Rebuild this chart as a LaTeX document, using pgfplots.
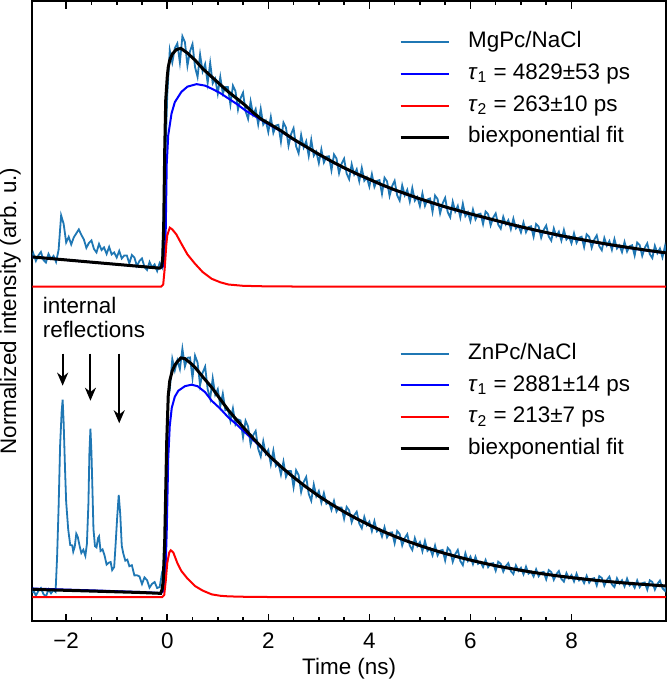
\documentclass[border=0pt]{standalone}
\usepackage{fontspec}
\setmainfont{Liberation Sans}
\usepackage{pgfplots}
\pgfplotsset{compat=1.18}
\usetikzlibrary{arrows.meta}

\definecolor{tabblue}{HTML}{1F77B4}

\pgfplotsset{
  panel/.style={
    width=316.5pt, height=309.75pt, scale only axis,
    xmin=-2.67, xmax=9.87, ymin=0, ymax=619,
    legend image code/.code={\draw[##1] (0pt,0pt) -- (24pt,0pt);},
    legend cell align=left,
    legend style={draw=none, fill=none, inner sep=0pt,
      font=\fontsize{11.2}{13}\selectfont,
      row sep=5pt,
      nodes={inner sep=0pt, text height=8.2pt, text depth=2.6pt},
      /tikz/every odd column/.append style={column sep=9pt}},
  },
  data/.style={tabblue, line width=0.9pt},
  comp1/.style={blue, line width=1pt},
  comp2/.style={red, line width=1pt},
  fit/.style={black, line width=1.5pt},
}

\begin{document}
\begin{tikzpicture}
% lower panel (ZnPc) carries the frame and labels
\begin{axis}[panel,
  axis line style={line width=1pt},
  xtick={-2,0,2,4,6,8},
  xticklabels={−2,0,2,4,6,8},
  minor x tick num=3,
  ytick=\empty,
  tick align=inside, xtick pos=both, xticklabel pos=bottom,
  major tick length=3.8pt, minor tick length=2pt,
  every tick/.style={black, line width=0.8pt},
  ticklabel style={font=\fontsize{11.2}{13}\selectfont},
  xticklabel style={yshift=-2.5pt},
  xlabel={Time (ns)},
  ylabel={Normalized intensity (arb.\ u.)},
  label style={font=\fontsize{11.2}{13}\selectfont},
  xlabel style={at={(axis description cs:0.5,-0.059)}, anchor=north, inner sep=0pt},
  ylabel style={at={(axis description cs:-0.0174,0.5)}, anchor=south, inner sep=0pt},
  legend style={at={(axis cs:4.58,278)}, anchor=north west},
]
\addplot[data] coordinates {
(-2.67,28) (-2.65,31.4) (-2.60,25.4) (-2.55,30.2) (-2.50,33) (-2.45,27) (-2.40,24.5) (-2.35,31.7) (-2.30,27.7)
(-2.25,31) (-2.21,29.2) (-2.18,63.6) (-2.15,113.4) (-2.12,175.4) (-2.09,208.8) (-2.07,221) (-2.05,197.8)
(-2.02,147.6) (-2.00,118.8) (-1.96,91.6) (-1.92,76) (-1.88,75.6) (-1.86,69.4) (-1.83,74.4) (-1.80,87.2)
(-1.77,84) (-1.73,74) (-1.70,68) (-1.66,71.2) (-1.62,65.2) (-1.59,77) (-1.56,117.2) (-1.54,168.6) (-1.52,192)
(-1.50,168.4) (-1.48,130.4) (-1.46,91.8) (-1.43,74.8) (-1.40,73.6) (-1.37,82.8) (-1.35,84.6) (-1.32,70)
(-1.28,71.6) (-1.24,65.4) (-1.20,56.4) (-1.16,58.2) (-1.12,59) (-1.09,51) (-1.05,54) (-1.02,78.2) (-0.99,104.2)
(-0.96,126) (-0.93,107) (-0.90,75.2) (-0.87,67.6) (-0.83,60.4) (-0.79,61.4) (-0.75,54.8) (-0.70,55.8)
(-0.65,45.6) (-0.60,45.8) (-0.55,44.6) (-0.50,37) (-0.45,43.6) (-0.40,40.9) (-0.35,33.4) (-0.30,37.2)
(-0.25,39) (-0.20,33) (-0.15,34) (-0.10,49.2) (-0.06,54.2) (-0.03,82) (-0.01,160) (0.02,225)
(0.05,230.9) (0.10,261.7) (0.15,250.3) (0.20,260.3) (0.25,251.6) (0.30,271.9) (0.35,254.2) (0.40,262.9)
(0.45,263.2) (0.50,242.8) (0.55,265) (0.60,258.1) (0.65,235.5) (0.70,247.9) (0.75,254) (0.80,231.5)
(0.85,222.1) (0.90,242.4) (0.95,226) (1.00,231.5) (1.05,214.5) (1.10,227) (1.15,210.5) (1.20,211.8)
(1.25,200) (1.30,212.3) (1.35,196.3) (1.40,201.3) (1.45,200.3) (1.50,183.5) (1.55,200) (1.60,194.2)
(1.65,176.3) (1.70,185.5) (1.75,189.8) (1.80,172) (1.85,164.3) (1.90,179.5) (1.95,166.8) (2.00,170.9)
(2.05,156.6) (2.10,170.2) (2.15,154.9) (2.20,157.5) (2.25,146.2) (2.30,159.1) (2.35,144) (2.40,149.8)
(2.45,149.7) (2.50,133.6) (2.55,150.6) (2.60,145.7) (2.65,128.7) (2.70,138.8) (2.75,143.8) (2.80,127)
(2.85,120.2) (2.90,136.4) (2.95,124.6) (3.00,129.8) (3.05,118.3) (3.10,127.8) (3.15,117.1) (3.20,118.9)
(3.25,111) (3.30,120) (3.35,109.4) (3.40,113.5) (3.45,113.4) (3.50,102.1) (3.55,114) (3.60,110.5)
(3.65,98.7) (3.70,105.7) (3.75,109.2) (3.80,97.4) (3.85,92.7) (3.90,104) (3.95,95.8) (4.00,99.4)
(4.05,89.8) (4.10,99.8) (4.15,89.6) (4.20,91.9) (4.25,84.4) (4.30,93.8) (4.35,83.7) (4.40,88.2)
(4.45,88.6) (4.50,77.7) (4.55,90) (4.60,86.9) (4.65,75.5) (4.70,82.9) (4.75,86.8) (4.80,75.4)
(4.85,71) (4.90,82.8) (4.95,74.9) (5.00,78.9) (5.05,69.7) (5.10,80.1) (5.15,70.1) (5.20,72.8)
(5.25,65.7) (5.30,75.4) (5.35,65.6) (5.40,70.4) (5.45,71.1) (5.50,60.5) (5.55,73.1) (5.60,70.3)
(5.65,59.2) (5.70,66.9) (5.75,71.1) (5.80,60) (5.85,55.8) (5.90,67.8) (5.95,60.1) (6.00,64.4)
(6.05,56.8) (6.10,64.2) (6.15,57.2) (6.20,59.1) (6.25,54) (6.30,61) (6.35,53.9) (6.40,57.4)
(6.45,57.8) (6.50,50.3) (6.55,59.3) (6.60,57.3) (6.65,49.4) (6.70,54.9) (6.75,57.9) (6.80,50)
(6.85,47) (6.90,55.6) (6.95,50.1) (7.00,53.2) (7.05,46.8) (7.10,54.4) (7.15,47.4) (7.20,49.5)
(7.25,44.6) (7.30,51.7) (7.35,44.8) (7.40,48.5) (7.45,49.1) (7.50,41.7) (7.55,50.9) (7.60,49)
(7.65,41.2) (7.70,46.8) (7.75,50) (7.80,42.2) (7.85,39.4) (7.90,48) (7.95,42.7) (8.00,45.9)
(8.05,39.6) (8.10,47.3) (8.15,40.6) (8.20,42.8) (8.25,38) (8.30,45.2) (8.35,38.4) (8.40,42.2)
(8.45,42.9) (8.50,35.6) (8.55,44.9) (8.60,43.1) (8.65,35.4) (8.70,41.1) (8.75,44.4) (8.80,36.7)
(8.85,34) (8.90,42.7) (8.95,37.5) (9.00,40.8) (9.05,34.6) (9.10,42.4) (9.15,35.7) (9.20,38)
(9.25,33.3) (9.30,40.6) (9.35,33.9) (9.40,37.8) (9.45,38.6) (9.50,31.4) (9.55,40.7) (9.60,39.1)
(9.65,31.4) (9.70,37.2) (9.75,40.5) (9.80,32.9) (9.85,30.2) (9.87,34)
};
\addlegendentry{ZnPc/NaCl}
\addplot[comp1] coordinates {
(-2.67,32.5) (-1.5,30.7) (-0.5,29) (-0.13,28) (-0.07,30) (-0.04,40) (-0.01,90) (0.02,163) (0.05,195)
(0.09,213) (0.15,224) (0.22,230) (0.35,234.5) (0.48,236) (0.6,234.5) (0.75,228.5) (0.88,220) (1.05,212)
(1.21,203.3) (1.38,196) (1.54,188.3) (1.7,181) (1.87,172.8) (2.0,165.5) (2.25,153.9) (2.5,143.5)
(2.75,133.8) (3,124.8) (3.25,116.6) (3.5,109.1) (3.75,102.2) (4,95.9) (4.25,90) (4.5,84.7) (4.75,79.8)
(5,75.4) (5.25,71.3) (5.5,67.5) (5.75,64.1) (6,60.9) (6.25,58) (6.5,55.3) (6.75,52.9) (7,50.7)
(7.25,48.6) (7.5,46.7) (7.75,45) (8,43.4) (8.25,42) (8.5,40.6) (8.75,39.4) (9,38.3) (9.25,37.3)
(9.5,36.4) (9.75,35.5) (9.87,35.1)
};
\addlegendentry{\textit{τ}\textsubscript{1} = 2881±14 ps}
\addplot[comp2] coordinates {
(-2.67,24) (-0.1,24) (-0.06,26) (-0.03,40) (0,58) (0.04,68.5) (0.07,70.7) (0.12,68.5) (0.2,58) (0.28,50)
(0.4,42.5) (0.55,35) (0.7,30.5) (0.88,26.7) (1.05,25.3) (1.21,24.7) (1.6,24.2) (2.2,24) (9.87,24)
};
\addlegendentry{\textit{τ}\textsubscript{2} = 213±7 ps}
\addplot[fit] coordinates {
(-2.67,31.7) (-1.5,30) (-0.5,28.5) (-0.13,27.7) (-0.1,32) (-0.08,40) (-0.05,80) (-0.03,130) (-0.01,180)
(0.02,225) (0.05,240) (0.1,250) (0.15,255.5) (0.2,259) (0.27,262.7) (0.35,262) (0.45,258) (0.55,253.3)
(0.7,244) (0.88,233.3) (1.05,221.5) (1.21,210.5) (1.38,200.5) (1.54,191.5) (1.7,182.5) (1.87,173.3)
(2.0,165.9) (2.25,154.2) (2.5,143.6) (2.75,133.8) (3,124.8) (3.25,116.6) (3.5,109.1) (3.75,102.2)
(4,95.9) (4.25,90) (4.5,84.7) (4.75,79.8) (5,75.4) (5.25,71.3) (5.5,67.5) (5.75,64.1) (6,60.9)
(6.25,58) (6.5,55.3) (6.75,52.9) (7,50.7) (7.25,48.6) (7.5,46.7) (7.75,45) (8,43.4) (8.25,42)
(8.5,40.6) (8.75,39.4) (9,38.3) (9.25,37.3) (9.5,36.4) (9.75,35.5) (9.87,35.1)
};
\addlegendentry{biexponential fit}
% annotation
\node[anchor=west, align=left, font=\fontsize{11.2}{12}\selectfont, inner sep=0pt]
  at (axis cs:-2.47,303) {internal\\reflections};
\draw[-{Stealth[length=6.5pt,width=5.5pt]}, line width=1pt] (axis cs:-2.07,267) -- (axis cs:-2.07,235);
\draw[-{Stealth[length=6.5pt,width=5.5pt]}, line width=1pt] (axis cs:-1.52,267) -- (axis cs:-1.52,220);
\draw[-{Stealth[length=6.5pt,width=5.5pt]}, line width=1pt] (axis cs:-0.95,267) -- (axis cs:-0.95,197.5);
\end{axis}

% upper panel (MgPc), same frame, hidden axis
\begin{axis}[panel, hide axis,
  legend style={at={(axis cs:4.58,589)}, anchor=north west},
]
\addplot[data] coordinates {
(-2.67,362) (-2.65,367) (-2.60,359.5) (-2.55,365) (-2.50,368.5) (-2.45,360.5) (-2.40,358) (-2.35,366.5)
(-2.30,361.5) (-2.25,364.5) (-2.20,358.5) (-2.15,370.5) (-2.10,405) (-2.05,396.5) (-2.00,378) (-1.95,383.5)
(-1.90,376) (-1.85,383) (-1.80,387) (-1.75,391) (-1.70,385.5) (-1.65,381) (-1.60,372.5) (-1.55,377.5)
(-1.50,380) (-1.45,371.5) (-1.40,368) (-1.35,376.5) (-1.30,370.5) (-1.25,373) (-1.20,366.5) (-1.15,373.5)
(-1.10,366) (-1.05,368) (-1.00,363) (-0.95,369.5) (-0.90,362) (-0.85,365) (-0.80,365) (-0.75,357)
(-0.70,365.5) (-0.65,363) (-0.60,354.5) (-0.55,359.5) (-0.50,362) (-0.45,353.5) (-0.40,350.5) (-0.35,358.5)
(-0.30,353) (-0.25,356) (-0.20,349.5) (-0.15,357.5) (-0.10,353) (-0.05,440) (0.00,525)
(0.05,569.8) (0.10,557.6) (0.15,571.8) (0.20,576.6) (0.25,557.6) (0.30,583.8) (0.35,577.9) (0.40,554.4)
(0.45,568.7) (0.50,576) (0.55,553) (0.60,543.2) (0.65,565.6) (0.70,548.7) (0.75,556) (0.80,537)
(0.85,557.2) (0.90,536.7) (0.95,541.4) (1.00,526.6) (1.05,543.2) (1.10,526.7) (1.15,533.2) (1.20,533.2)
(1.25,515.6) (1.30,534.5) (1.35,529.1) (1.40,510.6) (1.45,521.8) (1.50,527.5) (1.55,509.1) (1.60,501.3)
(1.65,518.8) (1.70,505.4) (1.75,511.1) (1.80,495.9) (1.85,511.4) (1.90,495.6) (1.95,499.5) (2.00,488.2)
(2.05,503.2) (2.10,487.4) (2.15,494.7) (2.20,495.4) (2.25,478.5) (2.30,497.7) (2.35,492.7) (2.40,474.5)
(2.45,486) (2.50,492) (2.55,474) (2.60,467) (2.65,485.3) (2.70,472.8) (2.75,479) (2.80,464.3)
(2.85,480.4) (2.90,464.6) (2.95,468.6) (3.00,457.2) (3.05,470.9) (3.10,457.8) (3.15,463.6) (3.20,464)
(3.25,450) (3.30,465.8) (3.35,461.8) (3.40,447) (3.45,456.5) (3.50,461.5) (3.55,446.8) (3.60,441.1)
(3.65,456.1) (3.70,445.9) (3.75,451) (3.80,439.1) (3.85,452.4) (3.90,439.6) (3.95,443) (4.00,433.8)
(4.05,446.2) (4.10,433.4) (4.15,439.5) (4.20,440.2) (4.25,426.5) (4.30,442.6) (4.35,438.9) (4.40,424.4)
(4.45,434.2) (4.50,439.5) (4.55,425.1) (4.60,419.7) (4.65,435) (4.70,425.1) (4.75,430.5) (4.80,418.8)
(4.85,432.3) (4.90,419.7) (4.95,423.3) (5.00,414.3) (5.05,427) (5.10,414.5) (5.15,420.9) (5.20,421.9)
(5.25,408.5) (5.30,424.8) (5.35,421.3) (5.40,407) (5.45,417) (5.50,422.5) (5.55,408.3) (5.60,403.1)
(5.65,418.6) (5.70,408.9) (5.75,414.5) (5.80,403) (5.85,416.7) (5.90,404.3) (5.95,408.1) (6.00,399.3)
(6.05,410.8) (6.10,401) (6.15,406) (6.20,406.7) (6.25,396.3) (6.30,408.9) (6.35,406.2) (6.40,395)
(6.45,402.8) (6.50,407) (6.55,395.8) (6.60,391.7) (6.65,403.6) (6.70,396) (6.75,400.2) (6.80,391.2)
(6.85,401.8) (6.90,392) (6.95,394.9) (7.00,388) (7.05,397.9) (7.10,388.2) (7.15,393.3) (7.20,394.1)
(7.25,383.7) (7.30,396.4) (7.35,393.8) (7.40,382.7) (7.45,390.6) (7.50,394.9) (7.55,383.9) (7.60,379.8)
(7.65,391.9) (7.70,384.3) (7.75,388.7) (7.80,379.8) (7.85,390.5) (7.90,380.9) (7.95,383.9) (8.00,377.1)
(8.05,387.1) (8.10,377.6) (8.15,382.7) (8.20,383.7) (8.25,373.4) (8.30,386.2) (8.35,383.7) (8.40,372.7)
(8.45,380.7) (8.50,385.1) (8.55,374.2) (8.60,370.2) (8.65,382.4) (8.70,374.9) (8.75,379.4) (8.80,370.6)
(8.85,381.4) (8.90,371.9) (8.95,375) (9.00,368.3) (9.05,378.4) (9.10,368.9) (9.15,374.2) (9.20,375.2)
(9.25,365) (9.30,377.9) (9.35,375.4) (9.40,364.6) (9.45,372.6) (9.50,377.1) (9.55,366.3) (9.60,362.4)
(9.65,374.7) (9.70,367.3) (9.75,371.9) (9.80,363.2) (9.85,374.1) (9.87,368)
};
\addlegendentry{MgPc/NaCl}
\addplot[comp1] coordinates {
(-2.67,363.5) (-1.5,358.3) (-0.5,353.9) (-0.15,352.3) (-0.08,354) (-0.05,365) (-0.03,390) (-0.01,456.7)
(0.02,485) (0.085,506.7) (0.15,518) (0.28,528.3) (0.4,533.5) (0.58,536) (0.75,534.5) (0.9,531) (1.05,527)
(1.21,521.7) (1.38,516) (1.54,510) (1.7,505) (1.87,500) (2.0,496) (2.25,489) (2.5,480.5) (2.75,473.2)
(3,465.7) (3.25,458.7) (3.5,452.2) (3.75,446.2) (4,440.7) (4.25,435.2) (4.5,430.2) (4.75,425.7)
(5,421.2) (5.25,417.2) (5.5,413.2) (5.75,409.7) (6,406.2) (6.25,403) (6.5,399.7) (6.75,396.4)
(7,393.3) (7.25,390.4) (7.5,387.6) (7.75,384.9) (8,382.4) (8.25,380.1) (8.5,377.8) (8.75,375.6)
(9,373.6) (9.25,371.7) (9.5,369.8) (9.75,368.1) (9.87,367.3)
};
\addlegendentry{\textit{τ}\textsubscript{1} = 4829±53 ps}
\addplot[comp2] coordinates {
(-2.67,334) (-0.12,334) (-0.08,336) (-0.05,352) (-0.02,375) (0,385) (0.05,392.7) (0.1,391) (0.18,386)
(0.28,376.7) (0.4,366) (0.55,356.7) (0.7,348.5) (0.88,341.7) (1.05,338.2) (1.21,336) (1.5,334.7)
(2.0,334.1) (2.5,334) (9.87,334)
};
\addlegendentry{\textit{τ}\textsubscript{2} = 263±10 ps}
\addplot[fit] coordinates {
(-2.67,363.5) (-1.5,358.3) (-0.5,353.9) (-0.15,352.3) (-0.11,354) (-0.09,362) (-0.07,395) (-0.05,470)
(-0.03,520) (0,543) (0.02,553) (0.05,560) (0.1,566) (0.18,570.5) (0.27,571.7) (0.4,567) (0.55,560)
(0.7,551.5) (0.88,543.3) (1.05,535.5) (1.21,528.3) (1.38,521.5) (1.54,515) (1.7,507.6) (1.87,500.7)
(2.0,497) (2.25,489.5) (2.5,481) (2.75,473.5) (3,466) (3.25,459) (3.5,452.5) (3.75,446.5) (4,441)
(4.25,435.5) (4.5,430.5) (4.75,426) (5,421.5) (5.25,417.5) (5.5,413.5) (5.75,410) (6,406.5)
(6.25,403.3) (6.5,400) (6.75,396.7) (7,393.6) (7.25,390.7) (7.5,387.9) (7.75,385.2) (8,382.7)
(8.25,380.4) (8.5,378.1) (8.75,375.9) (9,373.9) (9.25,372) (9.5,370.1) (9.75,368.4) (9.87,367.6)
};
\addlegendentry{biexponential fit}
\end{axis}
\end{tikzpicture}
\end{document}
